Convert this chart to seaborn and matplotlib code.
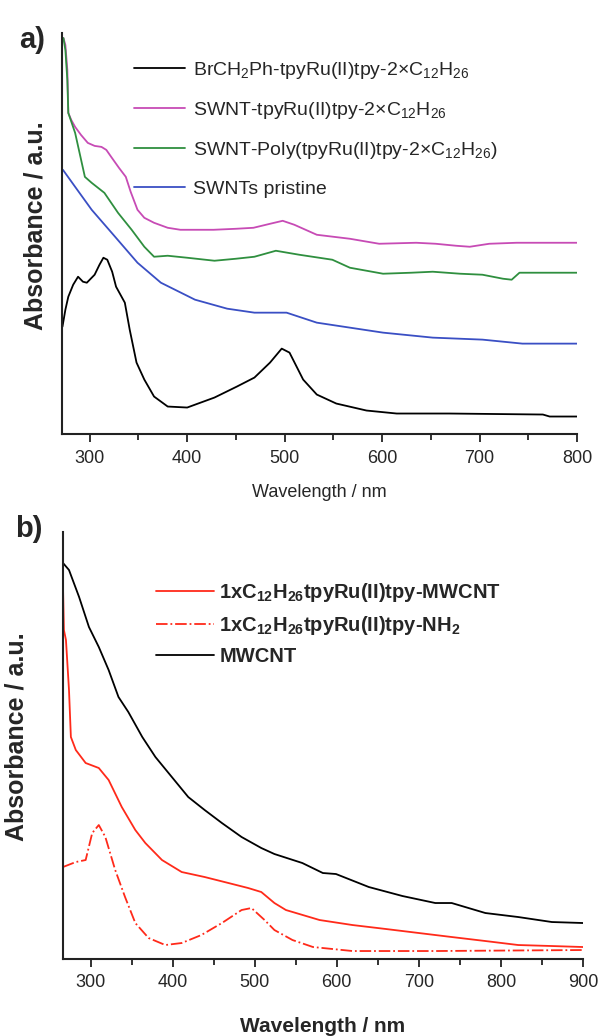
import matplotlib
matplotlib.use("Agg")
import matplotlib.pyplot as plt
from matplotlib.ticker import MultipleLocator, NullLocator
import seaborn as sns
import pandas as pd

sns.set_style("ticks")
plt.rcParams['font.family'] = ['Liberation Sans', 'DejaVu Sans']
plt.rcParams['mathtext.fontset'] = 'custom'
plt.rcParams['mathtext.rm'] = 'Liberation Sans'
plt.rcParams['mathtext.bf'] = 'Liberation Sans:bold'
plt.rcParams['mathtext.default'] = 'regular'

# ---------------- Panel a data ----------------
a_pink_x = [273, 275, 277, 278, 281, 285, 291, 298, 305, 312, 317, 322, 330, 337, 342, 349, 356, 366, 380, 393,
            410, 427, 450, 468, 485, 498, 510, 533, 550, 567, 585, 597, 635, 655, 676, 690, 710, 738, 770, 800]
a_pink_y = [3.97, 3.90, 3.65, 3.22, 3.15, 3.08, 3.00, 2.92, 2.89, 2.88, 2.85, 2.78, 2.67, 2.58, 2.43, 2.25, 2.17,
            2.12, 2.07, 2.05, 2.05, 2.05, 2.06, 2.07, 2.11, 2.14, 2.10, 2.00, 1.98, 1.96, 1.93, 1.91, 1.92, 1.91,
            1.89, 1.88, 1.91, 1.92, 1.92, 1.92]

a_green_x = [273, 275, 277, 278, 285, 290, 295, 302, 315, 329, 343, 356, 366, 380, 400, 428, 450, 469, 491, 515,
             549, 567, 601, 630, 652, 680, 703, 724, 733, 741, 770, 800]
a_green_y = [3.97, 3.85, 3.55, 3.22, 3.02, 2.80, 2.58, 2.52, 2.42, 2.22, 2.05, 1.88, 1.78, 1.79, 1.77, 1.74, 1.76,
             1.78, 1.84, 1.80, 1.75, 1.67, 1.61, 1.62, 1.63, 1.61, 1.60, 1.56, 1.55, 1.62, 1.62, 1.62]

a_blue_x = [272.5, 285, 302, 326, 349, 373, 408, 441, 469, 502, 533, 567, 601, 652, 703, 744, 800]
a_blue_y = [2.65, 2.48, 2.25, 1.98, 1.72, 1.52, 1.35, 1.26, 1.22, 1.22, 1.12, 1.07, 1.02, 0.97, 0.95, 0.91, 0.91]

a_black_x = [272, 275, 278, 283, 288, 293, 297, 305, 310, 314, 318, 323, 327, 336, 341, 348, 356, 366, 380, 400,
             428, 451, 469, 485, 497, 505, 519, 533, 553, 584, 615, 669, 765, 772, 800]
a_black_y = [1.08, 1.25, 1.38, 1.50, 1.58, 1.53, 1.52, 1.60, 1.70, 1.77, 1.75, 1.63, 1.48, 1.32, 1.05, 0.72, 0.55,
             0.38, 0.28, 0.27, 0.37, 0.48, 0.57, 0.72, 0.86, 0.82, 0.55, 0.40, 0.31, 0.24, 0.21, 0.21, 0.20, 0.18,
             0.18]

a_labels = [r'BrCH$_2$Ph-tpyRu(II)tpy-2×C$_{12}$H$_{26}$',
            r'SWNT-tpyRu(II)tpy-2×C$_{12}$H$_{26}$',
            r'SWNT-Poly(tpyRu(II)tpy-2×C$_{12}$H$_{26}$)',
            'SWNTs pristine']
a_colors = ['#000000', '#c74bb5', '#2f8f3f', '#3a4fc4']

# ---------------- Panel b data ----------------
b_red_x = [266.4, 267.5, 270, 273.7, 276, 282, 294, 310, 322, 338, 354.5, 366.7, 387, 411, 439, 468, 492, 508,
           524, 538, 579, 619, 660, 700, 740, 781, 821, 862, 900]
b_red_y = [3.72, 3.29, 3.19, 2.69, 2.22, 2.09, 1.96, 1.91, 1.79, 1.52, 1.29, 1.16, 0.99, 0.87, 0.82, 0.76, 0.71,
           0.67, 0.56, 0.49, 0.39, 0.34, 0.30, 0.26, 0.22, 0.18, 0.14, 0.13, 0.12]

b_nh2_x = [266.4, 282, 294, 302, 310, 318, 330, 342, 354.5, 370.7, 391, 411, 435, 460, 484, 496, 512, 524, 546,
           571, 619, 720, 900]
b_nh2_y = [0.92, 0.97, 0.99, 1.26, 1.34, 1.22, 0.89, 0.62, 0.36, 0.21, 0.14, 0.16, 0.24, 0.36, 0.49, 0.51, 0.39,
           0.29, 0.19, 0.12, 0.08, 0.08, 0.09]

b_black_x = [266.4, 273.7, 286, 298, 310, 322, 334, 346, 363, 379, 399, 419, 439, 460, 484, 508, 524, 558, 583,
             599, 639, 680, 720, 740, 781, 821, 862, 900]
b_black_y = [3.96, 3.89, 3.62, 3.32, 3.12, 2.89, 2.62, 2.47, 2.22, 2.02, 1.82, 1.62, 1.49, 1.36, 1.22, 1.11, 1.05,
             0.96, 0.86, 0.85, 0.72, 0.63, 0.56, 0.56, 0.46, 0.42, 0.37, 0.36]

b_labels = [r'1xC$_{\mathbf{12}}$H$_{\mathbf{26}}$tpyRu(II)tpy-MWCNT',
            r'1xC$_{\mathbf{12}}$H$_{\mathbf{26}}$tpyRu(II)tpy-NH$_{\mathbf{2}}$',
            'MWCNT']
b_colors = ['#ff2a1a', '#ff2a1a', '#000000']
b_styles = ['-', '-.', '-']

fig = plt.figure(figsize=(6.0, 10.36), dpi=100)
ax_a = fig.add_axes([0.1033, 0.5806, 0.8583, 0.3875])
ax_b = fig.add_axes([0.105, 0.0743, 0.8667, 0.4122])

series_a = [(a_black_x, a_black_y), (a_pink_x, a_pink_y), (a_green_x, a_green_y), (a_blue_x, a_blue_y)]
for (xs, ys), lab, col in zip(series_a, a_labels, a_colors):
    df = pd.DataFrame({'x': xs, 'y': ys})
    sns.lineplot(data=df, x='x', y='y', ax=ax_a, color=col, lw=1.3, label=lab, sort=False, estimator=None)

series_b = [(b_red_x, b_red_y), (b_nh2_x, b_nh2_y), (b_black_x, b_black_y)]
for (xs, ys), lab, col, ls in zip(series_b, b_labels, b_colors, b_styles):
    df = pd.DataFrame({'x': xs, 'y': ys})
    sns.lineplot(data=df, x='x', y='y', ax=ax_b, color=col, lw=1.3, label=lab, sort=False, estimator=None,
                 linestyle=ls)

ax_a.set_xlim(271.5, 800)
ax_a.set_ylim(0, 4.02)
ax_b.set_xlim(266.4, 900)
ax_b.set_ylim(0, 4.27)

for ax in (ax_a, ax_b):
    for s in ('top', 'right'):
        ax.spines[s].set_visible(False)
    for s in ('left', 'bottom'):
        ax.spines[s].set_linewidth(1.5)
        ax.spines[s].set_color('#222222')
    ax.xaxis.set_major_locator(MultipleLocator(100))
    ax.xaxis.set_minor_locator(MultipleLocator(50))
    ax.yaxis.set_major_locator(NullLocator())
    ax.yaxis.set_minor_locator(NullLocator())
    ax.tick_params(axis='x', which='major', direction='out', length=6, width=1.3, labelsize=13, pad=5,
                   color='#222222')
    ax.tick_params(axis='x', which='minor', direction='out', length=4, width=1.3, color='#222222')
    ax.set_ylabel('')

ax_a.set_xlabel('Wavelength / nm', fontsize=13)
ax_a.xaxis.set_label_coords(0.5, -0.1457)
ax_a.xaxis.label.set_va('center')
ax_b.set_xlabel('Wavelength / nm', fontsize=15, fontweight='bold')
ax_b.xaxis.set_label_coords(0.5, -0.158)
ax_b.xaxis.label.set_va('center')

fig.text(0.06, 0.782, 'Absorbance / a.u.', rotation=90, ha='center', va='center', fontsize=18, fontweight='bold')
fig.text(0.028, 0.289, 'Absorbance / a.u.', rotation=90, ha='center', va='center', fontsize=18, fontweight='bold')
fig.text(0.053, 0.961, 'a)', ha='center', va='center', fontsize=21, fontweight='bold')
fig.text(0.048, 0.489, 'b)', ha='center', va='center', fontsize=21, fontweight='bold')

leg_a = ax_a.legend(loc='upper left', bbox_to_anchor=(0.125, 0.952), frameon=False, fontsize=14,
                    handlelength=2.6, handletextpad=0.45, labelspacing=0.98, borderaxespad=0)
leg_b = ax_b.legend(loc='upper left', bbox_to_anchor=(0.163, 0.905), frameon=False,
                    prop={'size': 14.5, 'weight': 'bold'},
                    handlelength=2.9, handletextpad=0.25, labelspacing=0.5, borderaxespad=0)

fig.savefig('out.png', dpi=100)
